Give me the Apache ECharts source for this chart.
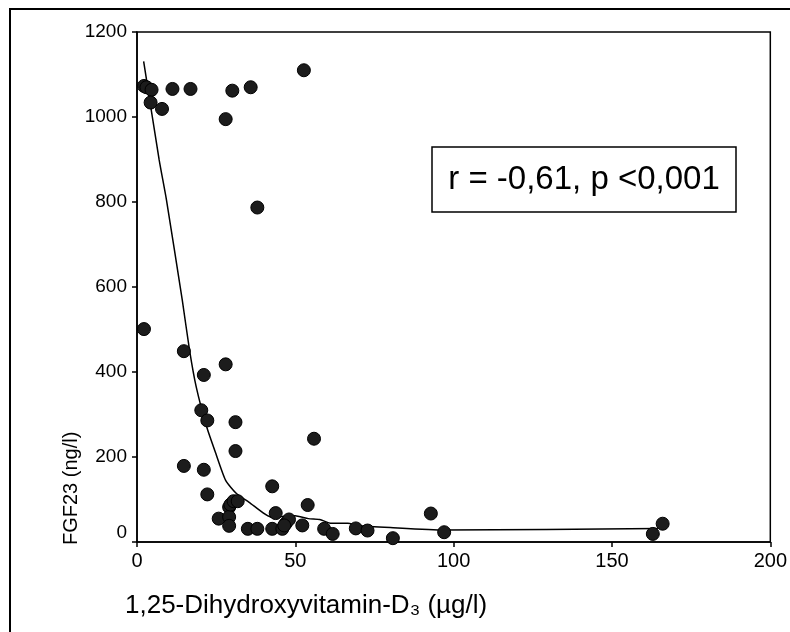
<!DOCTYPE html>
<html>
<head>
<meta charset="utf-8">
<script src="https://cdn.jsdelivr.net/npm/echarts@6/dist/echarts.min.js"></script>
<style>
html,body{margin:0;padding:0;background:#fff;}
#c{width:790px;height:632px;}
</style>
</head>
<body>
<div id="c"></div>
<script>
// scatter points: 1,25-Dihydroxyvitamin-D3 (µg/l) vs FGF23 (ng/l)
var pointX = [2.2, 3, 4.6, 4.3, 7.9, 11.2, 16.9, 28, 30.1, 35.9, 52.7, 38,
  2.2, 14.8, 21.1, 28, 20.3, 22.2, 31.1, 31.1, 55.9, 14.8, 21.1, 22.2, 42.7,
  25.8, 29.1, 29.1, 29.1, 29.5, 30.5, 31.8, 35, 38, 42.7, 43.8, 45.9, 47, 48, 46.5,
  52.2, 53.9, 59.1, 61.8, 69.1, 72.8, 80.8, 92.8, 97, 162.9, 166];
var pointY = [1073, 1070, 1064, 1034, 1019, 1066, 1066, 995, 1062, 1070, 1110, 787,
  501, 449, 393, 418, 310, 286, 282, 214, 243, 179, 170, 112, 131,
  55, 82, 59, 38, 88, 96, 96, 31, 31, 31, 68, 31, 44, 53, 39,
  39, 87, 31, 19, 32, 27, 9, 67, 23, 19, 43];
// smoothed fit line
var fitX = [2.1, 7, 9.3, 14.3, 16.6, 18.7, 22, 24.9, 28, 31.4, 35.3, 42.6, 46.8, 49.9, 54.1, 57.7, 61.4, 66.6, 69.7, 80, 97, 164.5];
var fitY = [1131, 899, 805, 569, 451, 365, 271, 208, 145, 114, 94, 58, 60, 62, 55, 53, 44, 44, 39, 34, 28, 32];
var xTicks = [0, 50, 100, 150, 200];
var yTicks = [0, 200, 400, 600, 800, 1000, 1200];
var xTitle = '1,25-Dihydroxyvitamin-D\u2083 (\u00b5g/l)';
var yTitle = 'FGF23 (ng/l)';
var statText = 'r = -0,61, p <0,001';

var FONT = '"Liberation Sans", Arial, Helvetica, sans-serif';
var chart = echarts.init(document.getElementById('c'), null, {renderer: 'canvas'});
var scatterData = pointX.map(function (x, i) { return [x, pointY[i]]; });
var fitData = fitX.map(function (x, i) { return [x, fitY[i]]; });

chart.setOption({
  animation: false,
  backgroundColor: '#fff',
  grid: {left: 137, right: 14, top: 32, bottom: 90, show: true, borderColor: '#000', borderWidth: 1.5, backgroundColor: 'transparent'},
  xAxis: {
    type: 'value', min: xTicks[0], max: xTicks[xTicks.length - 1], interval: 50,
    axisLine: {lineStyle: {color: '#000', width: 1.5}},
    axisTick: {show: true, inside: false, length: 5, lineStyle: {color: '#000', width: 1.5}},
    splitLine: {show: false},
    axisLabel: {color: '#000', fontSize: 20, fontFamily: FONT, margin: 9}
  },
  yAxis: {
    type: 'value', min: yTicks[0], max: yTicks[yTicks.length - 1], interval: 200,
    axisLine: {lineStyle: {color: '#000', width: 1.5}},
    axisTick: {show: true, inside: false, length: 5, lineStyle: {color: '#000', width: 1.5}},
    splitLine: {show: false},
    axisLabel: {color: '#000', fontSize: 19, fontFamily: FONT, margin: 10,
      formatter: function (v) { return v === 0 ? '{z|0}' : String(v); },
      rich: {z: {fontSize: 19, fontFamily: FONT, color: '#000', padding: [0, 0, 18, 0]}}}
  },
  series: [
    {type: 'line', data: fitData, showSymbol: false, symbol: 'none', smooth: 0.2,
     lineStyle: {color: '#000', width: 1.5}, z: 2},
    {type: 'scatter', data: scatterData, symbol: 'circle', symbolSize: 13,
     itemStyle: {color: '#1c1c1c', borderColor: '#000', borderWidth: 1, opacity: 1}, z: 3}
  ],
  graphic: [
    {type: 'rect', shape: {x: 10, y: 9, width: 820, height: 700},
     style: {fill: 'none', stroke: '#000', lineWidth: 2}, silent: true, z: 100},
    {type: 'rect', shape: {x: 432, y: 147, width: 304, height: 65},
     style: {fill: '#fff', stroke: '#000', lineWidth: 1.5}, z: 100},
    {type: 'text', x: 584, y: 180, z: 101,
     style: {text: statText, fill: '#000', font: '33px ' + FONT, textAlign: 'center', textVerticalAlign: 'middle'}},
    {type: 'text', x: 125, y: 606, z: 101,
     style: {text: xTitle, fill: '#000', font: '26px ' + FONT, textAlign: 'left', textVerticalAlign: 'middle'}},
    {type: 'text', x: 71, y: 545, rotation: Math.PI / 2, z: 101,
     style: {text: yTitle, fill: '#000', font: '20px ' + FONT, textAlign: 'left', textVerticalAlign: 'middle'}}
  ]
});
</script>
</body>
</html>
